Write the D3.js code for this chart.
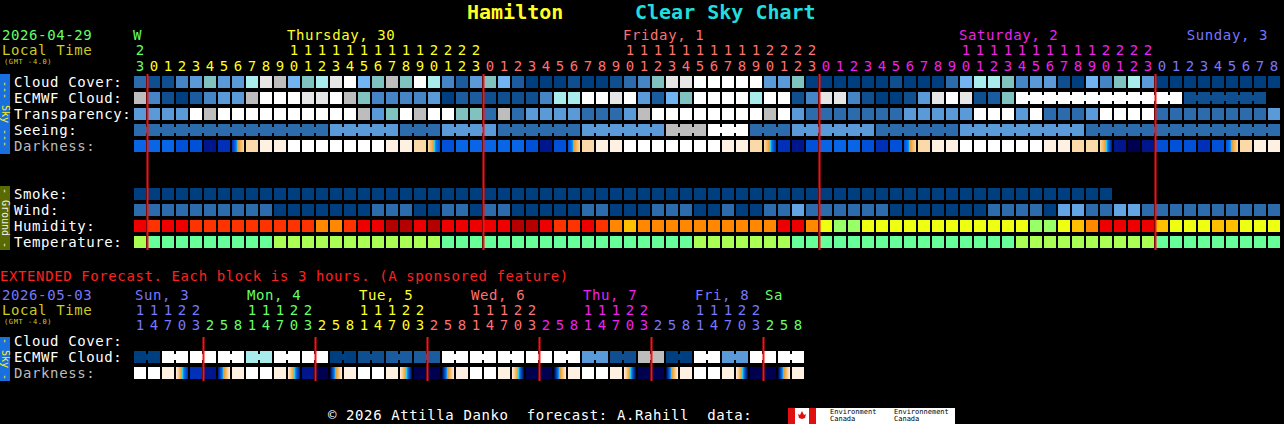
<!DOCTYPE html>
<html><head><meta charset="utf-8">
<script src="https://cdn.jsdelivr.net/npm/d3@7"></script>
<style>
body{margin:0;background:#000;}
svg text{font-family:"DejaVu Sans Mono",monospace;white-space:pre;}
svg text.w{letter-spacing:0.6px;}
</style></head>
<body><svg id="csc" width="1284" height="424"></svg>
<script>
// ---- data ----
const dayNames = ["W", "Thursday, 30", "Friday, 1", "Saturday, 2", "Sunday, 3"];
const hours = [23].concat(d3.range(24), d3.range(24), d3.range(24), d3.range(9));
const cloudCover = [3,1,1,4,5,7,5,5,8,10,9,6,7,8,10,11,6,7,9,7,11,8,4,2,5,
  7,6,2,0,0,0,1,0,0,1,3,4,7,10,10,11,11,11,11,11,5,5,7,0,0,0,0,
  0,0,1,0,0,0,3,6,8,8,7,4,5,5,1,0,6,4,7,8,5,
  0,0,0,0,0,0,0,0,0];
const ecmwfCloud = [9,4,1,0,2,4,5,5,9,11,11,11,10,10,11,9,7,4,4,4,4,5,0,2,2,
  1,1,1,1,4,8,8,11,11,10,11,5,2,6,7,11,11,11,11,8,11,11,1,4,10,10,4,
  1,0,0,1,5,10,11,10,1,2,7,11,11,11,11,11,11,11,11,11,
  11,11,11,1,1,1,1,1,1];
const transparency = [5,5,5,5,11,9,11,11,11,11,11,11,11,11,11,11,9,5,7,11,9,11,11,7,7,
  3,9,3,5,5,5,5,3,3,3,5,9,11,11,11,11,11,11,11,11,9,11,5,3,3,3,3,
  3,3,3,5,5,5,5,5,11,11,11,5,11,3,3,3,5,11,11,11,11,
  3,3,3,3,3,3,3,3,5];
const seeing = [3,3,3,3,3,3,3,3,3,3,3,3,3,3,5,5,5,5,5,3,3,3,5,5,5,
  5,3,3,3,3,3,3,5,5,5,5,5,5,9,9,9,11,11,11,3,3,3,5,5,5,5,5,
  5,3,3,3,3,3,3,5,5,5,5,5,5,5,5,5,3,3,3,3,3,
  3,3,3,3,3,3,3,3,3];
const darkness = [4,4,4,3,3,1,2,6,8,9,9,10,10,10,10,10,10,10,9,9,8,6,3,4,4,
  4,4,4,3,1,3,6,8,9,9,10,10,10,10,10,10,10,9,9,8,6,2,1,3,4,4,4,
  3,2,3,6,8,9,9,10,10,10,10,10,10,9,9,8,8,6,1,0,1,
  3,3,3,2,3,6,8,9,9];
const smoke = d3.range(70).map(() => 0);
const wind = [1,1,1,1,1,1,1,1,1,1,0,0,0,0,0,0,0,1,1,1,0,0,1,1,0,
  1,1,0,0,0,0,0,1,1,0,0,0,1,1,1,0,0,1,0,0,1,1,2,1,1,1,1,
  1,1,0,0,0,0,0,0,0,1,1,1,1,0,2,2,1,1,2,2,1,
  1,1,1,1,1,1,1,1,1];
const humidity = [5,4,5,5,4,4,4,4,4,4,4,4,4,3,3,4,5,5,6,6,5,6,5,5,5,
  5,5,6,6,5,4,4,5,4,3,2,3,3,3,3,3,3,3,3,3,3,5,5,3,1,0,0,
  1,1,1,1,1,1,1,1,1,1,1,1,0,0,1,2,3,5,5,5,5,
  2,1,1,1,2,2,1,1,1];
const temperature = [1,0,0,0,0,0,0,0,0,0,1,1,1,1,1,1,1,1,1,1,1,1,0,0,0,
  0,0,0,0,0,0,0,0,0,0,0,0,0,0,0,1,1,1,1,1,1,1,0,0,0,0,0,
  0,0,0,0,0,0,0,0,0,0,0,1,1,1,1,1,1,1,1,1,1,
  0,0,0,0,0,0,0,0,0];

const extDayNames = ["Sun, 3", "Mon, 4", "Tue, 5", "Wed, 6", "Thu, 7", "Fri, 8", "Sa"];
const extHours = [11,14,17,20,23].concat(
  [2,5,8,11,14,17,20,23],[2,5,8,11,14,17,20,23],[2,5,8,11,14,17,20,23],
  [2,5,8,11,14,17,20,23],[2,5,8,11,14,17,20,23],[2,5,8]);
const extEcmwf = [0,0,11,11,11,11,11,11,8,8,11,11,11,11,0,0,1,1,2,2,2,2,
  11,11,11,11,11,11,11,11,11,11,5,5,1,1,9,9,0,0,11,11,5,5,11,11,11,11];
const extDarkness = [10,10,9,6,2, 1,6,9,10,10,9,6,1, 0,6,9,10,10,9,6,0,
  0,6,9,10,10,9,6,0, 0,6,9,10,10,9,6,0, 0,6,9,10,10,9,6,0, 0,6,9];

// ---- palettes ----
const cloudPal = ['#003f7f','#0f4f8f','#1a5c9d','#2c6cac','#4585c5','#5a9ad9','#72b4f2','#80c2c0','#a8ecec','#bdbdbd','#e6e6e6','#ffffff'];
const windPal = ['#003f7f','#2c6cac','#62a4e4'];
const humPal = ['#99ff66','#eeff11','#ffc000','#ff8800','#ff3300','#ee0000','#b50000'];
const tempPal = ['#66ff99','#aaff55'];
const darkPal = ['#000050','#00168c','#0030b8','#0050d8','#0866e6','#1080f0',null,'#f0a030','#fcd9a8','#fff1e2','#ffffff'];
const dayColor = ['#66ff66','#ffff22','#ff7070','#ee22ee','#7777ff'];
const extDayColor = ['#7777ff','#66ff66','#ffff22','#ff7070','#ee22ee','#7777ff','#66ff66'];

const svg = d3.select("#csc");
const step = 14, x0 = 134;
const x = d3.scaleBand().domain(d3.range(hours.length))
  .range([x0, x0 + step * hours.length - 2]).paddingInner(2 / step).paddingOuter(0);
const xe = d3.scaleBand().domain(d3.range(extHours.length))
  .range([x0, x0 + step * extHours.length - 2]).paddingInner(2 / step).paddingOuter(0);
const bw = x.bandwidth();

// day index per column: a new day starts at every hour that wraps back
function dayIndex(hrs){
  let d = 0; return hrs.map((h, i) => { if (i > 0 && h < hrs[i-1]) d++; return d; });
}
const dayOf = dayIndex(hours), extDayOf = dayIndex(extHours);

const defs = svg.append("defs");
let gid = 0;
function darkFill(vals, i){
  const v = vals[i];
  if (v !== 6) return darkPal[v];
  const prev = darkPal[vals[i-1] !== undefined ? vals[i-1] : 3];
  const next = darkPal[vals[i+1] !== undefined ? vals[i+1] : 8];
  const id = "dg" + (gid++);
  const gr = defs.append("linearGradient").attr("id", id);
  const rise = (vals[i-1] ?? 0) < 6;
  const stops = rise
    ? [[0, prev], [0.35, '#0a78f0'], [0.45, '#20d0f8'], [0.55, '#f0a030'], [1, next]]
    : [[0, prev], [0.45, '#f0a030'], [0.55, '#20d0f8'], [0.65, '#0a78f0'], [1, next]];
  stops.forEach(s => gr.append("stop").attr("offset", s[0]).attr("stop-color", s[1]));
  return `url(#${id})`;
}

function row(scale, vals, y, fill, bridge){
  const g = svg.append("g");
  g.selectAll("rect.c").data(vals).join("rect").attr("class","c")
    .attr("x", (d, i) => scale(i)).attr("y", y)
    .attr("width", scale.bandwidth()).attr("height", 12)
    .attr("fill", (d, i) => fill(d, i));
  if (bridge) {
    const br = vals.map((d, i) => i).filter(i => i < vals.length - 1 && bridge(i) && vals[i] === vals[i+1]);
    g.selectAll("rect.b").data(br).join("rect").attr("class","b")
      .attr("x", i => scale(i) + scale.bandwidth()).attr("y", y + 3)
      .attr("width", step - scale.bandwidth()).attr("height", 6)
      .attr("fill", i => fill(vals[i], i));
  }
}

function label(t, xx, y, color, size, extra){
  const s = svg.append("text").attr("class", "w").attr("x", xx).attr("y", y).attr("fill", color)
    .attr("font-size", size || 14).text(t);
  if (extra) extra(s);
  return s;
}

// ---- title ----
label("Hamilton", 467, 19, "#ffff22", 20, s => s.attr("font-weight", "bold").attr("class", null));
label("Clear Sky Chart", 635, 19, "#22dddd", 20, s => s.attr("font-weight", "bold").attr("class", null));

// ---- main header ----
const hs = 14;
label("2026-04-29", 2, 40, dayColor[0], hs);
label("Local Time", 2, 55, "#cccc22", hs);
label("(GMT -4.0)", 4, 64, "#cccc22", 7);
dayNames.forEach((n, d) => {
  const cols = hours.map((h, i) => i).filter(i => dayOf[i] === d);
  let c = cols.find(i => hours[i] === 10);
  if (d === 0) c = cols[0];
  if (c === undefined) {
    label(n, x(cols[cols.length-1]) + bw - 12, 40, dayColor[d], hs, s => s.attr("text-anchor", "end"));
  } else label(n, x(c) - 1, 40, dayColor[d], hs);
});
svg.append("g").selectAll("text").data(hours).join("text")
  .attr("x", (h, i) => x(i) + bw / 2).attr("y", 71).attr("text-anchor", "middle")
  .attr("font-size", hs).attr("fill", (h, i) => dayColor[dayOf[i]]).text(h => h % 10);
svg.append("g").selectAll("text").data(hours).join("text")
  .attr("x", (h, i) => x(i) + bw / 2).attr("y", 55).attr("text-anchor", "middle")
  .attr("font-size", hs).attr("fill", (h, i) => dayColor[dayOf[i]]).text(h => h >= 10 ? Math.floor(h / 10) : "");

// ---- side bars ----
function sideBar(y, h, color, text, tcol){
  svg.append("rect").attr("x", 0).attr("y", y).attr("width", 10).attr("height", h).attr("fill", color);
  svg.append("text").attr("transform", `translate(2,${y + h / 2}) rotate(90)`)
    .attr("text-anchor", "middle").attr("font-size", 10).attr("fill", tcol).text(text);
}
sideBar(74, 80, "#1a6fdf", "--- Sky ---", "#ffee22");
sideBar(186, 64, "#5a6a00", "- Ground -", "#eeeeee");
sideBar(337, 44, "#1a6fdf", "- Sky -", "#ffee22");

// ---- sky / ground rows ----
const skyRows = [
  ["Cloud Cover:", 76, cloudCover, d => cloudPal[d], null],
  ["ECMWF Cloud:", 92, ecmwfCloud, d => cloudPal[d], i => i >= 63],
  ["Transparency:", 108, transparency, d => cloudPal[d], null],
  ["Seeing:", 124, seeing, d => cloudPal[d], () => true],
  ["Darkness:", 140, darkness, (d, i) => darkFill(darkness, i), null],
  ["Smoke:", 188, smoke, d => cloudPal[d], null],
  ["Wind:", 204, wind, d => windPal[d], null],
  ["Humidity:", 220, humidity, d => humPal[d], null],
  ["Temperature:", 236, temperature, d => tempPal[d], null]
];
skyRows.forEach(r => {
  label(r[0], 14, r[1] + 11, r[0] === "Darkness:" ? "#bbbbbb" : "#ffffff");
  row(x, r[2], r[1], r[3], r[4]);
});

// midnight lines
const mids = hours.map((h, i) => i).filter(i => hours[i] === 0);
svg.append("g").selectAll("rect").data(mids).join("rect")
  .attr("x", i => x(i) - 1.5).attr("y", 74).attr("width", 2).attr("height", 176).attr("fill", "#ff1010");

// ---- extended ----
label("EXTENDED Forecast. Each block is 3 hours. (A sponsored feature)", 0, 281, "#ff2020", hs);
label("2026-05-03", 2, 300, extDayColor[0], hs);
label("Local Time", 2, 315, "#cccc22", hs);
label("(GMT -4.0)", 4, 324, "#cccc22", 7);
extDayNames.forEach((n, d) => {
  const cols = extHours.map((h, i) => i).filter(i => extDayOf[i] === d);
  const c = cols.find(i => extHours[i] === 11);
  label(n, xe(c !== undefined ? c : cols[0]) + 1, 300, extDayColor[d], hs);
});
svg.append("g").selectAll("text").data(extHours).join("text")
  .attr("x", (h, i) => xe(i) + bw / 2).attr("y", 330).attr("text-anchor", "middle")
  .attr("font-size", hs).attr("fill", (h, i) => extDayColor[extDayOf[i]]).text(h => h % 10);
svg.append("g").selectAll("text").data(extHours).join("text")
  .attr("x", (h, i) => xe(i) + bw / 2).attr("y", 315).attr("text-anchor", "middle")
  .attr("font-size", hs).attr("fill", (h, i) => extDayColor[extDayOf[i]]).text(h => h >= 10 ? Math.floor(h / 10) : "");
label("Cloud Cover:", 14, 346, "#ffffff");
label("ECMWF Cloud:", 14, 362, "#ffffff");
label("Darkness:", 14, 378, "#bbbbbb");
row(xe, extEcmwf, 351, d => cloudPal[d], i => i % 2 === 0);
row(xe, extDarkness, 367, (d, i) => darkFill(extDarkness, i), null);
const extMids = extHours.map((h, i) => i).filter(i => i > 0 && extHours[i] < extHours[i-1]);
svg.append("g").selectAll("rect").data(extMids).join("rect")
  .attr("x", i => xe(i) - 1.5).attr("y", 337).attr("width", 2).attr("height", 44).attr("fill", "#ff1010");

// ---- footer ----
label("\u00a9 2026 Attilla Danko  forecast: A.Rahill  data:", 328, 420, "#ffffff");
const lg = svg.append("g").attr("transform", "translate(788,408)");
lg.append("rect").attr("width", 167).attr("height", 16).attr("fill", "#ffffff");
lg.append("rect").attr("width", 7).attr("height", 16).attr("fill", "#e01010");
lg.append("rect").attr("x", 21).attr("width", 7).attr("height", 16).attr("fill", "#e01010");
lg.append("path").attr("d", "M14 3 L16 7 L18 6 L17 10 L14 11 L11 10 L10 6 L12 7 Z").attr("fill", "#e01010");
[["Environment", 42, 6], ["Canada", 42, 13], ["Environnement", 106, 6], ["Canada", 106, 13]].forEach(t =>
  lg.append("text").attr("x", t[1]).attr("y", t[2]).attr("font-size", 7)
    .attr("font-family", "Liberation Sans, sans-serif").attr("fill", "#000").text(t[0]));
</script>
</body></html>
